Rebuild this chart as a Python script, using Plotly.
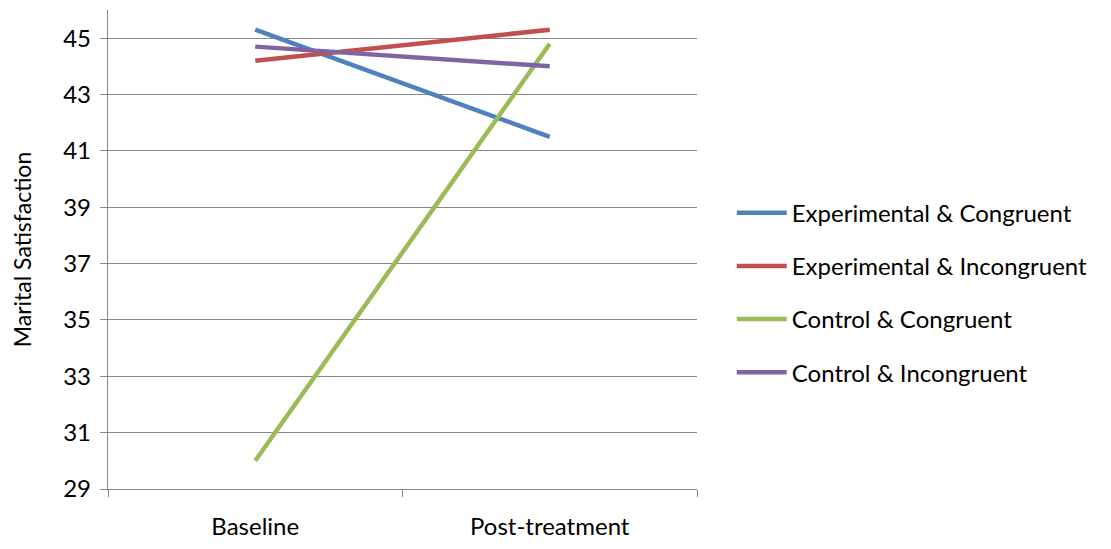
import plotly.graph_objects as go

categories = ["Baseline", "Post-treatment"]
series_names = ["Experimental & Congruent", "Experimental & Incongruent",
                "Control & Congruent", "Control & Incongruent"]
exp_congruent = [45.3, 41.5]
exp_incongruent = [44.2, 45.3]
ctrl_congruent = [30.0, 44.8]
ctrl_incongruent = [44.7, 44.0]
y_ticks = [29, 31, 33, 35, 37, 39, 41, 43, 45]

colors = ["#4F81BD", "#C0504D", "#9BBB59", "#8064A2"]
values = [exp_congruent, exp_incongruent, ctrl_congruent, ctrl_incongruent]

fig = go.Figure()
for name, vals, col in zip(series_names, values, colors):
    fig.add_trace(go.Scatter(
        x=categories, y=vals, mode="lines", name=name, legendgroup=name,
        line=dict(color=col, width=4.5),
    ))

font_family = "Lato, Open Sans, sans-serif"
fig.update_layout(
    width=1111, height=549,
    margin=dict(l=100, r=422, t=2, b=68),
    paper_bgcolor="white", plot_bgcolor="white",
    font=dict(family=font_family, size=24, color="#000000"),
    showlegend=True,
    legend=dict(x=1.059, y=0.41, xanchor="left", yanchor="middle",
                font=dict(size=24, color="#000000"),
                tracegroupgap=19, itemwidth=50, bgcolor="rgba(0,0,0,0)"),
    xaxis=dict(
        type="category", range=[-0.5, 1.5], tickson="boundaries",
        ticks="outside", ticklen=7, tickcolor="#868686",
        showline=True, linecolor="#868686", linewidth=1.3,
        showgrid=False, tickfont=dict(size=24), ticklabelstandoff=16,
    ),
    yaxis=dict(
        range=[29, 46], tickvals=y_ticks, ticks="outside", ticklen=7,
        tickcolor="#868686", showline=True, linecolor="#868686", linewidth=1.3,
        showgrid=True, gridcolor="#868686", gridwidth=1.3, zeroline=False,
        tickfont=dict(size=24), ticklabelstandoff=4,
        title=dict(text="Marital Satisfaction", font=dict(size=23), standoff=26),
    ),
)

fig.write_html("out.html")
